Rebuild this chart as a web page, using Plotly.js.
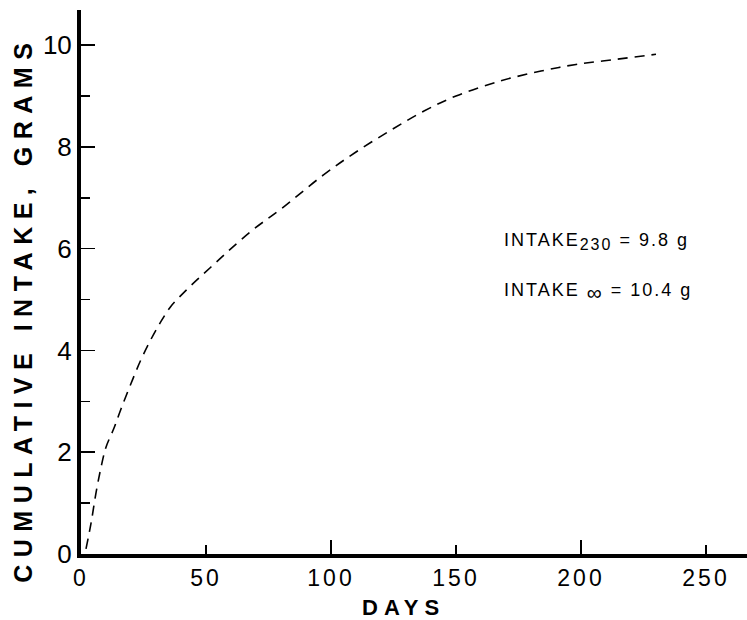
<!DOCTYPE html>
<html>
<head>
<meta charset="utf-8">
<script src="https://cdn.plot.ly/plotly-3.0.1.min.js"></script>
<style>
html,body{margin:0;padding:0;background:#fff;}
#chart{width:747px;height:620px;}
.xtick text{letter-spacing:3px;}
g.annotation[data-index="0"] text, g.annotation[data-index="1"] text{letter-spacing:2px;}
g.annotation[data-index="2"] text{letter-spacing:7.5px;}
g.annotation[data-index="3"] text{letter-spacing:6px;}
</style>
</head>
<body>
<div id="chart"></div>
<script>
// Data
const days = [2, 4, 6, 8, 10, 13, 16, 20, 24, 28, 32, 36, 42, 48, 54, 60, 69, 80, 97, 110, 124, 137, 150, 168, 184, 198, 214, 230];
const intake = [0.1, 0.6, 1.2, 1.7, 2.1, 2.45, 2.85, 3.35, 3.82, 4.22, 4.57, 4.87, 5.18, 5.46, 5.73, 6.0, 6.38, 6.78, 7.45, 7.9, 8.33, 8.7, 9.0, 9.3, 9.49, 9.62, 9.72, 9.82];
const xTickVals = [0, 50, 100, 150, 200, 250];
const xTickLabels = ['0', '50', '100', '150', '200', '250'];
const xLongTicks = [100, 200];
const yTickVals = [0, 2, 4, 6, 8, 10];
const yTickLabels = ['0', '2', '4', '6', '8', '10'];
const yMinorTicks = [1, 3, 5, 7, 9];
const note1 = 'INTAKE<sub><span style="font-size:16px">230</span></sub> = 9.8 g';
const note2 = 'INTAKE <sub><span style="font-size:21px">\u221E</span></sub> = 10.4 g';
const yTitle = 'CUMULATIVE INTAKE, GRAMS';
const xTitle = 'DAYS';

const FONT = 'Liberation Sans, Arial, sans-serif';

const trace = {
  x: days, y: intake, type: 'scatter', mode: 'lines',
  line: {color: '#000', width: 1.6, dash: '10px,7px', shape: 'spline', smoothing: 1.0},
  hoverinfo: 'skip', showlegend: false
};
const dummy = {x: [0], y: [0], xaxis: 'x2', yaxis: 'y', mode: 'markers', marker: {opacity: 0}, showlegend: false, hoverinfo: 'skip'};

const layout = {
  width: 747, height: 620,
  margin: {l: 81, r: 0, t: 10, b: 66},
  paper_bgcolor: '#fff', plot_bgcolor: '#fff',
  showlegend: false,
  xaxis: {
    range: [0, 266.4], showgrid: false, zeroline: false,
    showline: true, linewidth: 4, linecolor: '#000',
    ticks: 'inside', ticklen: 9, tickwidth: 1.5, tickcolor: '#000',
    tickmode: 'array', tickvals: xTickVals, ticktext: xTickLabels,
    tickfont: {family: FONT, size: 23, color: '#000'},
    fixedrange: true
  },
  xaxis2: {
    overlaying: 'x', range: [0, 266.4], showgrid: false, zeroline: false, showline: false,
    ticks: 'inside', ticklen: 14, tickwidth: 1.5, tickcolor: '#000',
    tickmode: 'array', tickvals: xLongTicks, showticklabels: false, side: 'bottom', fixedrange: true
  },
  yaxis: {
    range: [0, 10.69], showgrid: false, zeroline: false,
    showline: true, linewidth: 4, linecolor: '#000',
    ticks: 'inside', ticklen: 14, tickwidth: 1.5, tickcolor: '#000',
    tickmode: 'array', tickvals: yTickVals, ticktext: yTickLabels,
    tickfont: {family: FONT, size: 26, color: '#000'},
    minor: {tickmode: 'array', tickvals: yMinorTicks, ticks: 'inside', ticklen: 9, tickwidth: 1.5, tickcolor: '#000'},
    fixedrange: true
  },
  annotations: [
    {x: 175, y: 6.15, xref: 'x', yref: 'y', xanchor: 'left', yanchor: 'middle', showarrow: false,
     text: note1, font: {family: FONT, size: 18, color: '#000'}},
    {x: 175, y: 5.15, xref: 'x', yref: 'y', xanchor: 'left', yanchor: 'middle', showarrow: false,
     text: note2, font: {family: FONT, size: 18, color: '#000'}},
    {x: -0.087, y: 0.449, xref: 'paper', yref: 'paper', xanchor: 'center', yanchor: 'middle', showarrow: false,
     textangle: -90, text: '<b>' + yTitle + '</b>', font: {family: FONT, size: 25, color: '#000'}},
    {x: 0.4835, y: -0.098, xref: 'paper', yref: 'paper', xanchor: 'center', yanchor: 'middle', showarrow: false,
     borderpad: 0, text: '<b>' + xTitle + '</b>', font: {family: FONT, size: 22, color: '#000'}}
  ]
};

Plotly.newPlot('chart', [trace, dummy], layout, {staticPlot: true, displayModeBar: false});
</script>
</body>
</html>
